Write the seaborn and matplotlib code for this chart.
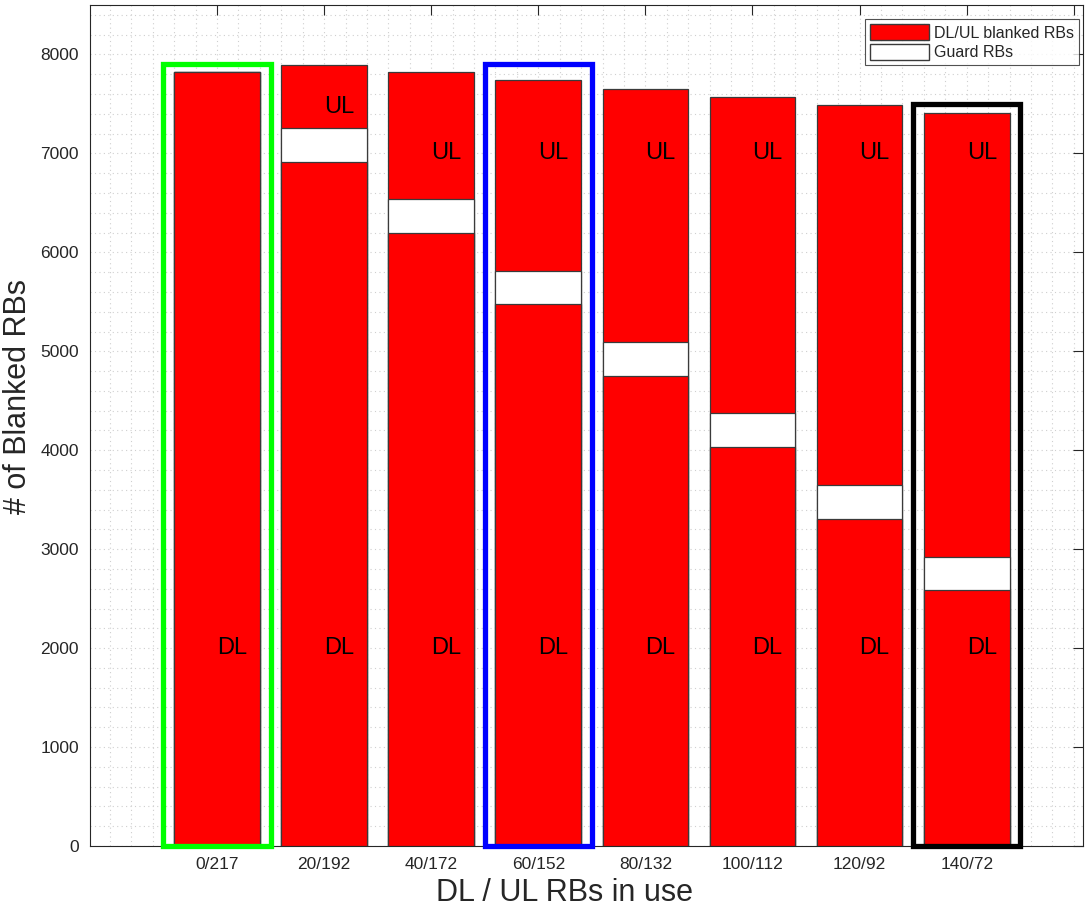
import numpy as np
import pandas as pd
import matplotlib
matplotlib.use('Agg')
import matplotlib.pyplot as plt
from matplotlib.patches import Patch, Rectangle
from matplotlib.ticker import MultipleLocator
import seaborn as sns

# datos
etiquetas = ['0/217', '20/192', '40/172', '60/152', '80/132', '100/112', '120/92', '140/72']
dl_rbs = [7819, 6916, 6195, 5480, 4752, 4031, 3309, 2592]
guard_rbs = [0, 341, 344, 334, 341, 344, 338, 333]
ul_rbs = [0, 640, 1280, 1928, 2561, 3198, 3845, 4487]
# posicion de los textos
dl_txt_y = [2000] * 8
ul_txt_y = [None, 7470, 7000, 7000, 7000, 7000, 7000, 7000]
# cajas resaltadas (indice, alto, color)
cajas = [(0, 7900, '#00ff00'), (3, 7900, '#0000ff'), (7, 7500, '#000000')]

df = pd.DataFrame({'config': etiquetas, 'dl': dl_rbs, 'guard': guard_rbs, 'ul': ul_rbs})
df['dl_guard'] = df['dl'] + df['guard']
df['total'] = df['dl_guard'] + df['ul']

sns.set_theme(style='white')
plt.rcParams['font.family'] = ['Liberation Sans', 'DejaVu Sans']

fig = plt.figure(figsize=(10.85, 9.08), dpi=100)
ax = fig.add_axes([90 / 1085, 62 / 908, 993 / 1085, 841 / 908])

borde = '#3a3a3a'
# barras apiladas dibujadas por capas
sns.barplot(data=df, x='config', y='total', color='#ff0000', saturation=1,
            edgecolor=borde, linewidth=0.9, width=0.8, ax=ax, zorder=2)
sns.barplot(data=df, x='config', y='dl_guard', color='#ffffff', saturation=1,
            edgecolor=borde, linewidth=0.9, width=0.8, ax=ax, zorder=3)
sns.barplot(data=df, x='config', y='dl', color='#ff0000', saturation=1,
            edgecolor=borde, linewidth=0.9, width=0.8, ax=ax, zorder=4)

for i in range(len(etiquetas)):
    ax.text(i, dl_txt_y[i], 'DL', ha='left', va='center', fontsize=17, color='black', zorder=6)
    if ul_txt_y[i] is not None:
        ax.text(i, ul_txt_y[i], 'UL', ha='left', va='center', fontsize=17, color='black', zorder=6)

for idx, alto, col in cajas:
    ax.add_patch(Rectangle((idx - 0.5, 0), 1.0, alto, fill=False, edgecolor=col,
                           linewidth=3.8, zorder=7, clip_on=False))

ax.set_xlim(-1.186, 8.086)
ax.set_ylim(0, 8500)
ax.set_xticks(range(9))
ax.set_xticklabels(etiquetas + [''])
ax.set_yticks(range(0, 8001, 1000))
ax.xaxis.set_minor_locator(MultipleLocator(0.2))
ax.yaxis.set_minor_locator(MultipleLocator(200))

ax.set_axisbelow(True)
ax.grid(which='both', linestyle=(0, (1, 3)), color='#cfcfcf', linewidth=0.8)

ax.tick_params(which='major', direction='in', length=7, width=0.8, color='#262626',
               labelsize=12.5, labelcolor='#262626', top=True, right=True, pad=8)
ax.tick_params(which='minor', length=0)
for s in ax.spines.values():
    s.set_color('#262626')
    s.set_linewidth(0.8)

ax.set_xlabel('DL / UL RBs in use', fontsize=22, color='#262626')
ax.set_ylabel('# of Blanked RBs', fontsize=22, color='#262626')
ax.xaxis.set_label_coords(0.478, -0.038)
ax.yaxis.set_label_coords(-0.057, 0.535)

handles = [Patch(facecolor='#ff0000', edgecolor=borde, label='DL/UL blanked RBs'),
           Patch(facecolor='#ffffff', edgecolor=borde, label='Guard RBs')]
leg = ax.legend(handles=handles, loc='upper right', fontsize=11.5, frameon=True,
                fancybox=False, edgecolor='#262626', handlelength=3.7, handleheight=1.2,
                bbox_to_anchor=(0.9955, 0.983), borderaxespad=0, labelspacing=0.2,
                handletextpad=0.3, borderpad=0.3)
leg.get_frame().set_linewidth(0.8)
leg.set_zorder(10)

fig.savefig('out.png', dpi=100)
